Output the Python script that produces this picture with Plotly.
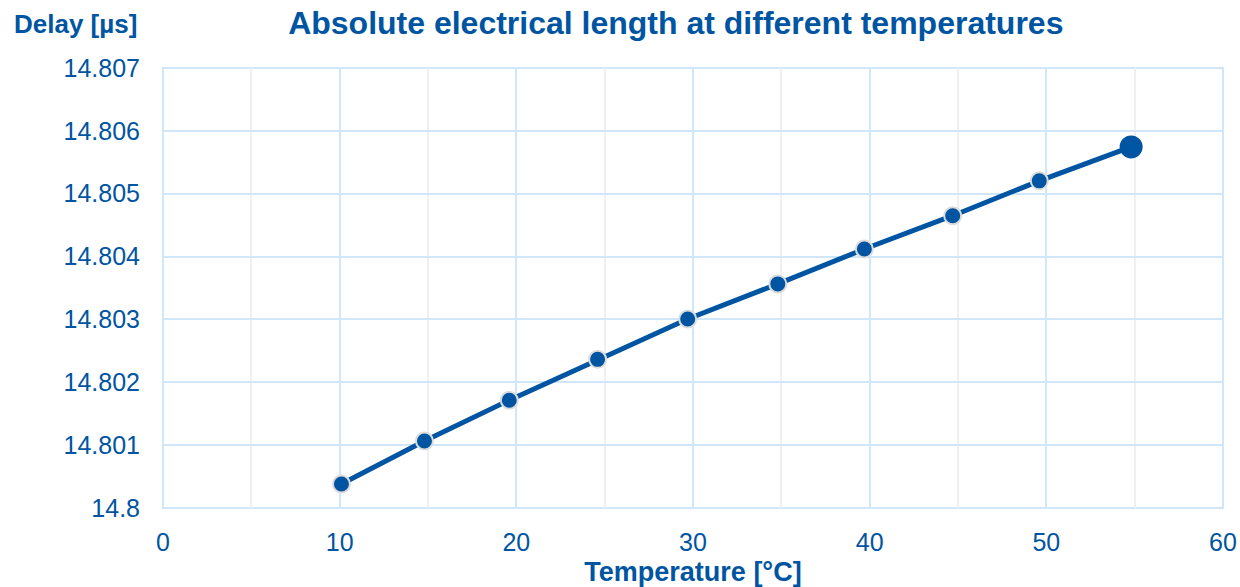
import plotly.graph_objects as go

temperature = [10.1, 14.8, 19.6, 24.6, 29.7, 34.8, 39.7, 44.7, 49.6, 54.8]
delay = [14.800382, 14.801066, 14.801715, 14.802365, 14.803007, 14.803565, 14.804120, 14.804650, 14.805205, 14.805745]
x_ticks = [0, 10, 20, 30, 40, 50, 60]
y_ticks = [14.8, 14.801, 14.802, 14.803, 14.804, 14.805, 14.806, 14.807]
y_labels = ["14.8", "14.801", "14.802", "14.803", "14.804", "14.805", "14.806", "14.807"]

BLUE = "#0055a2"
FONT = "Liberation Sans, Arial, sans-serif"

sizes = [17] * (len(temperature) - 1) + [21]
line_colors = ["#dcdcdc"] * (len(temperature) - 1) + [BLUE]

fig = go.Figure()
fig.add_trace(go.Scatter(
    x=temperature, y=delay, mode="lines+markers",
    line=dict(color=BLUE, width=5),
    marker=dict(color=BLUE, size=sizes, opacity=1, line=dict(color=line_colors, width=2)),
    showlegend=False,
))

fig.update_layout(
    width=1240, height=587,
    paper_bgcolor="white", plot_bgcolor="white",
    margin=dict(l=163, r=17, t=68, b=79, autoexpand=False),
    font=dict(family=FONT, color=BLUE),
    title=dict(text="<b>Absolute electrical length at different temperatures</b>",
               x=0.545, xanchor="center", y=0.962, yanchor="middle",
               font=dict(size=32, color=BLUE, family=FONT)),
    xaxis=dict(range=[0, 60], tickvals=x_ticks, ticktext=[str(v) for v in x_ticks],
               automargin=False,
               showgrid=True, gridcolor="#cfe6fb", gridwidth=2,
               minor=dict(dtick=5, showgrid=True, gridcolor="#f0f0f0", gridwidth=2),
               zeroline=False, showline=False,
               ticks="outside", ticklen=12, tickcolor="rgba(0,0,0,0)",
               tickfont=dict(size=25, color=BLUE, family=FONT),
               title=dict(text="<b>Temperature [°C]</b>", font=dict(size=27, color=BLUE, family=FONT), standoff=10)),
    yaxis=dict(range=[14.8, 14.807], tickvals=y_ticks, ticktext=y_labels,
               automargin=False,
               showgrid=True, gridcolor="#cfe6fb", gridwidth=2,
               zeroline=False, showline=False, ticks="outside", ticklen=17, tickcolor="rgba(0,0,0,0)",
               tickfont=dict(size=25, color=BLUE, family=FONT)),
)

fig.add_shape(type="rect", xref="paper", yref="paper", x0=0, x1=1, y0=0, y1=1,
              line=dict(color="#cfe6fb", width=2), layer="below")

fig.add_annotation(text="<b>Delay [µs]</b>", xref="paper", yref="paper",
                   x=-0.083, y=1.1, xanchor="center", yanchor="middle", showarrow=False,
                   font=dict(size=26, color=BLUE, family=FONT))

fig.write_html("out.html", config={"displayModeBar": False},
               post_script="document.body.style.margin='0';document.body.style.overflow='hidden';")
